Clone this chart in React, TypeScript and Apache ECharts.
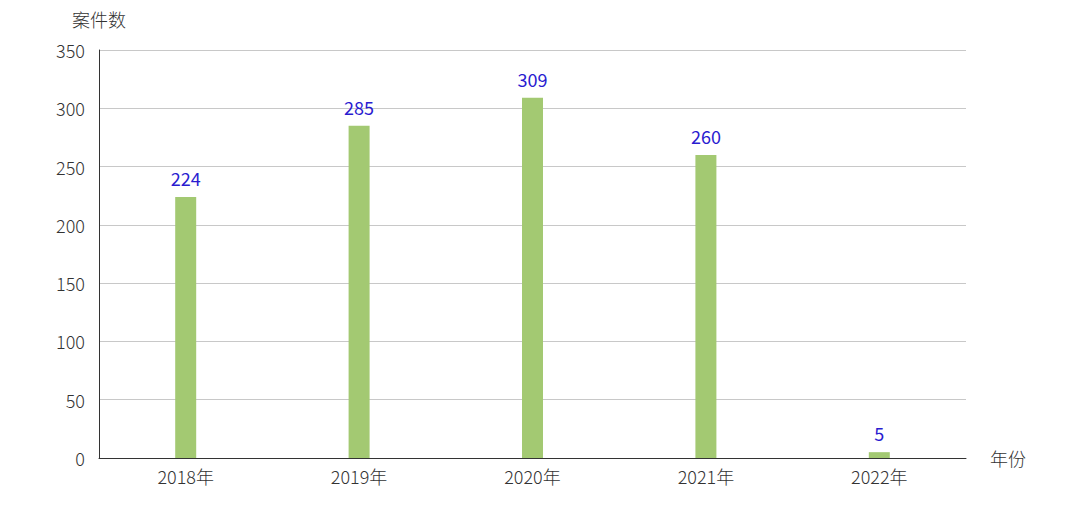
import React, { useEffect, useRef } from "react";
import * as echarts from "echarts";

const categories = ["2018年", "2019年", "2020年", "2021年", "2022年"];
const caseCounts = [224, 285, 309, 260, 5];
const yTicks = [0, 50, 100, 150, 200, 250, 300, 350];

const FONT = "'Microsoft YaHei', 'Noto Sans CJK SC', sans-serif";

export default function App() {
  const ref = useRef<HTMLDivElement>(null);
  useEffect(() => {
    const chart = echarts.init(ref.current!, null, { renderer: "svg" });
    chart.setOption({
      animation: false,
      grid: { left: 99, right: 99, top: 50, bottom: 47, containLabel: false },
      xAxis: {
        type: "category",
        data: categories,
        name: "年份",
        nameGap: 24,
        nameTextStyle: { color: "#333", fontSize: 18, fontFamily: FONT, fontWeight: 300, padding: [0, 0, 4, 0] },
        axisLine: { lineStyle: { color: "#333" } },
        axisTick: { show: false },
        axisLabel: { color: "#333", fontSize: 18, fontFamily: FONT, fontWeight: 300, margin: 9 },
      },
      yAxis: {
        type: "value",
        min: yTicks[0],
        max: yTicks[yTicks.length - 1],
        interval: 50,
        name: "案件数",
        nameGap: 22,
        nameTextStyle: { color: "#333", fontSize: 18, fontFamily: FONT, fontWeight: 300, align: "center" },
        axisLine: { show: true, lineStyle: { color: "#333" } },
        axisTick: { show: false },
        axisLabel: { color: "#333", fontSize: 18, fontFamily: FONT, fontWeight: 300, margin: 14 },
        splitLine: { lineStyle: { color: "#c8c8c8" } },
      },
      series: [
        {
          type: "bar",
          data: caseCounts,
          barWidth: 21,
          itemStyle: { color: "#a3c972" },
          label: {
            show: true,
            position: "top",
            color: "#2a1cd0",
            fontSize: 18,
            fontFamily: FONT,
            fontWeight: 400,
            distance: 10,
          },
        },
      ],
    });
    return () => chart.dispose();
  }, []);
  return <div ref={ref} style={{ width: 1065, height: 505, position: "absolute", left: 0, top: 0 }} />;
}
